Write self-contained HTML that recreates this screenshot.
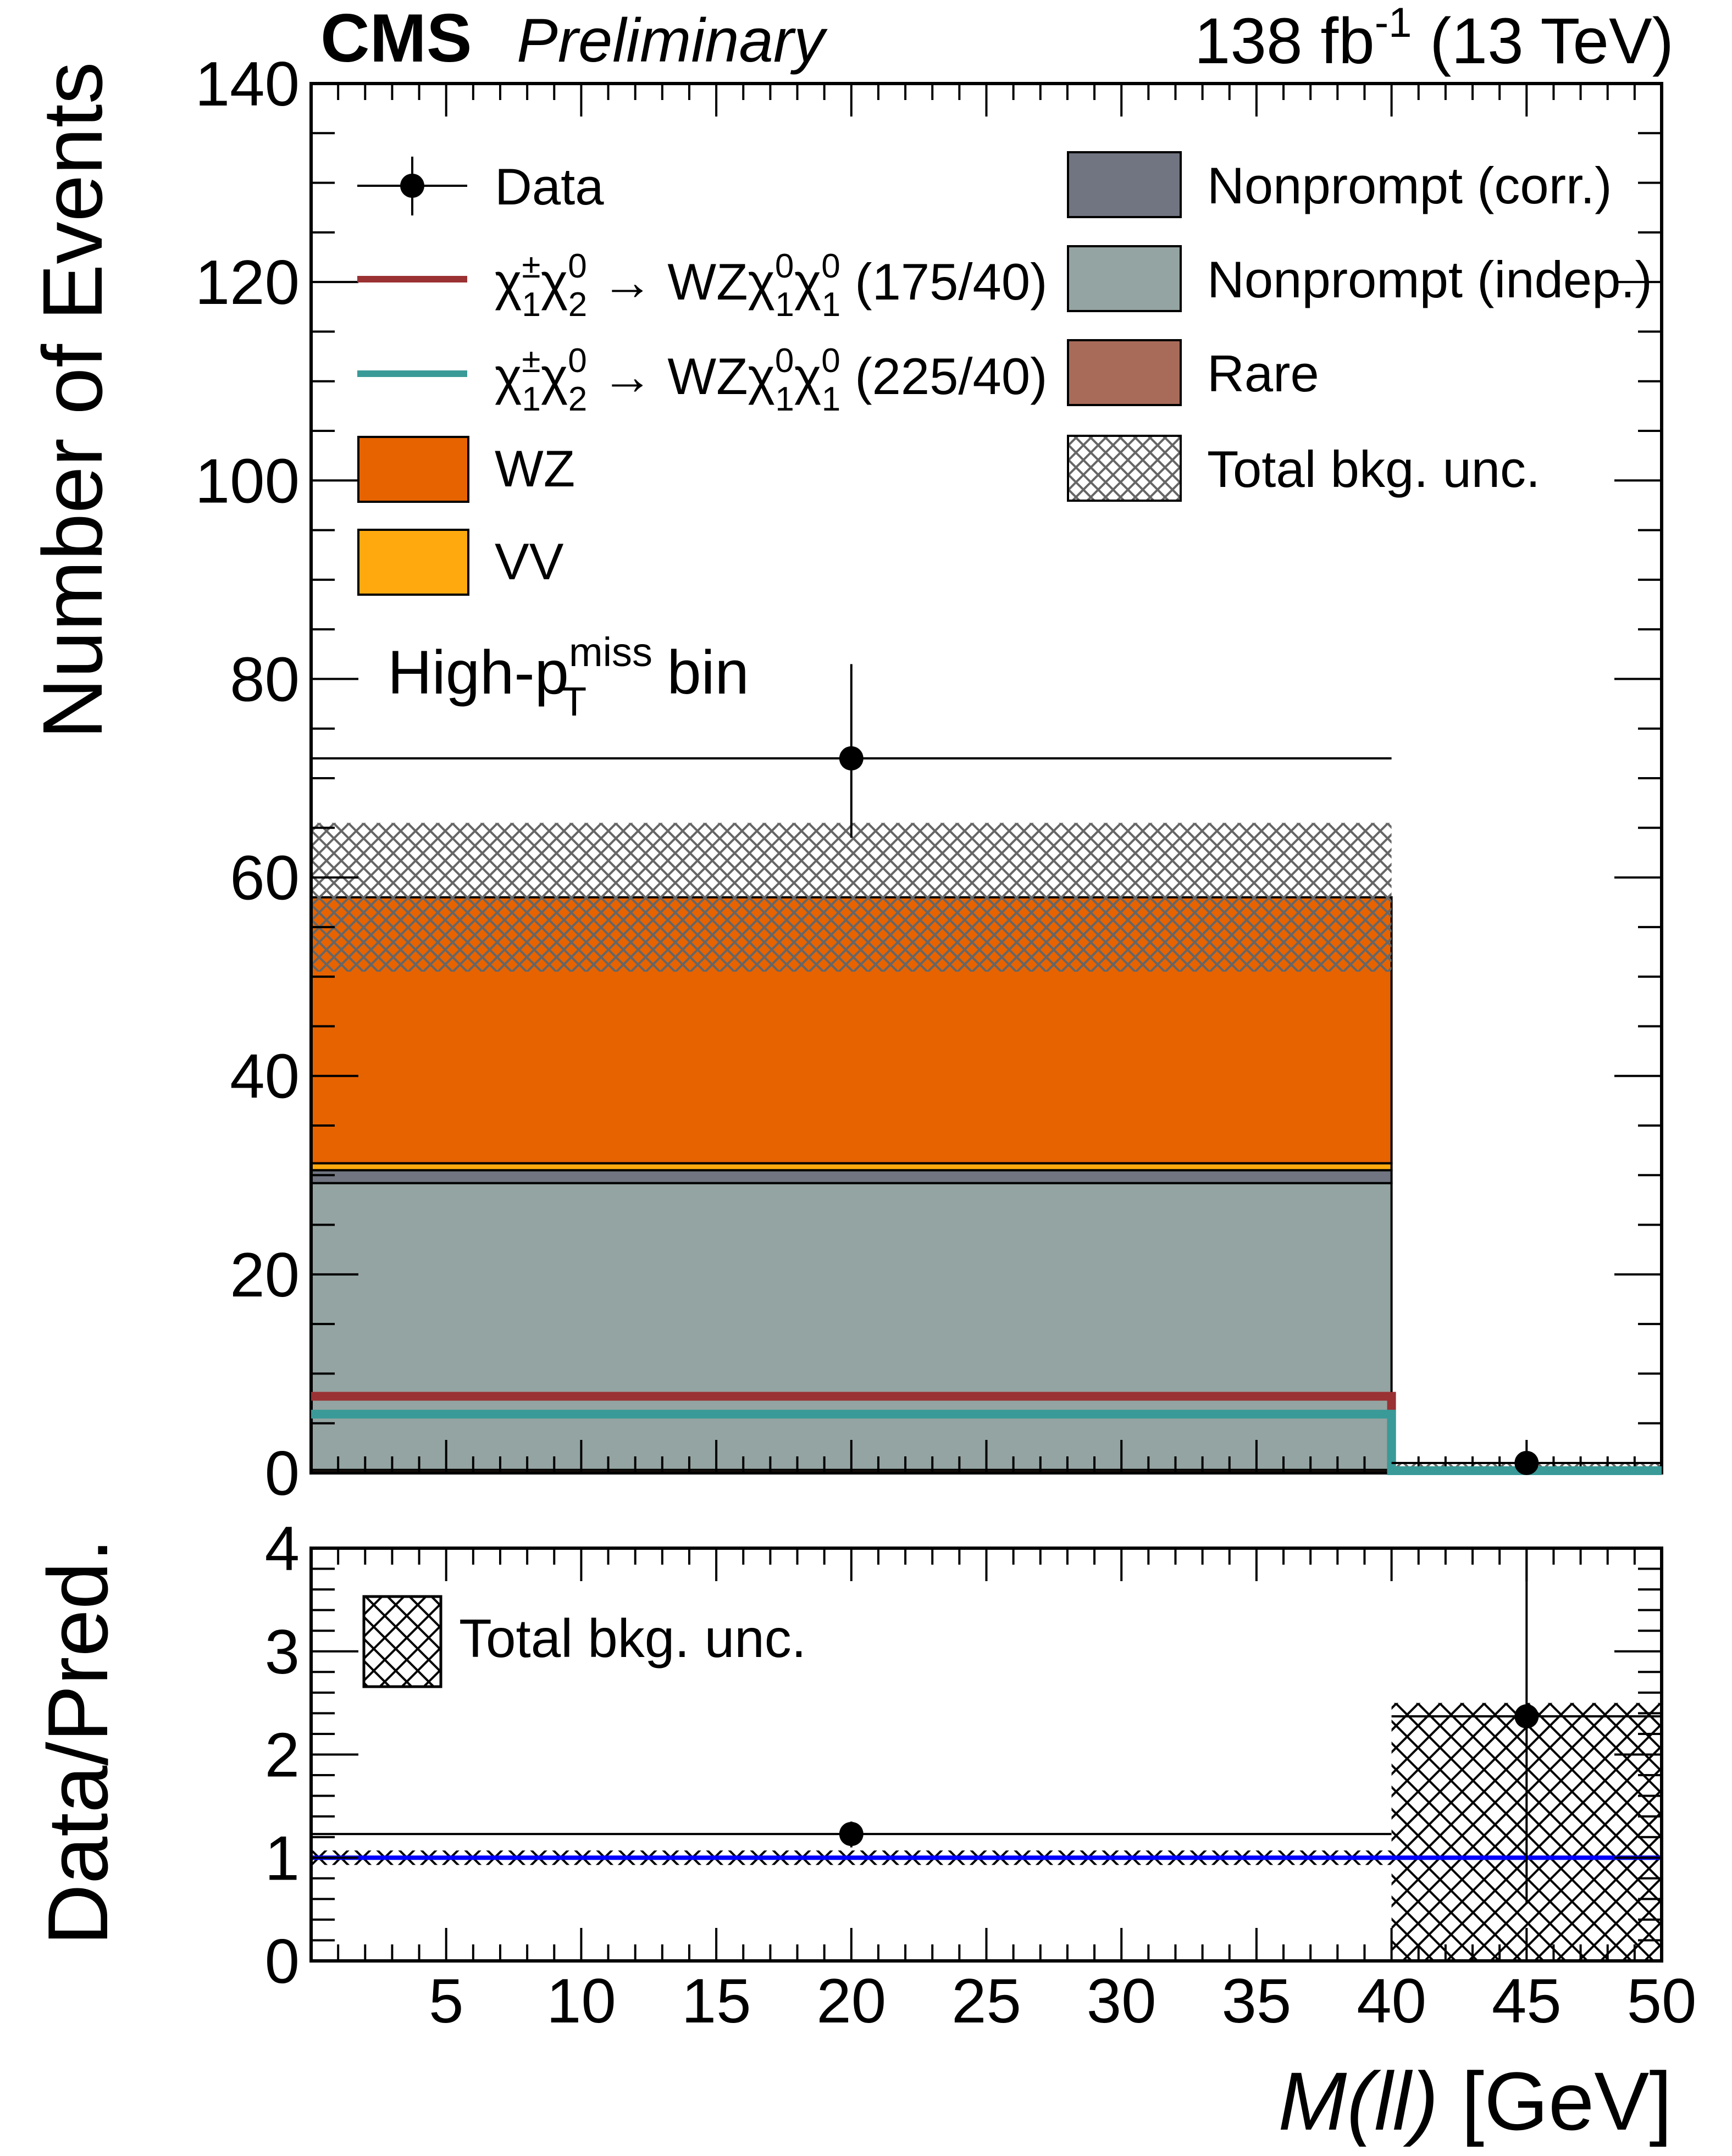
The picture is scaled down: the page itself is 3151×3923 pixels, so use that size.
<!DOCTYPE html>
<html><head><meta charset="utf-8"><style>
html,body{margin:0;padding:0;background:#fff;}
svg{display:block;}
text{font-family:"Liberation Sans",sans-serif;fill:#000;}
</style></head><body>
<svg id="chart" xmlns="http://www.w3.org/2000/svg" width="3151" height="3923" viewBox="0 0 3151 3923">
<defs>
<pattern id="hatchGray" patternUnits="userSpaceOnUse" width="27" height="27">
<path d="M0,0 L27,27 M27,0 L0,27 M-3,24 L3,30 M24,-3 L30,3 M-3,3 L3,-3 M24,30 L30,24" stroke="#666" stroke-width="4"/>
</pattern>
<pattern id="hatchBlack" patternUnits="userSpaceOnUse" width="40" height="40">
<path d="M0,0 L40,40 M40,0 L0,40" stroke="#000" stroke-width="4"/>
</pattern>
<clipPath id="mainClip"><rect x="566" y="152" width="2457" height="2528"/></clipPath>
<clipPath id="ratioClip"><rect x="566" y="2817" width="2457" height="751"/></clipPath>
</defs>
<g id="main-marks" clip-path="url(#mainClip)"></g>
<g id="ratio-marks" clip-path="url(#ratioClip)"></g>
<g id="axes"></g>
<g id="signal-marks"></g>

<text x="583" y="112" font-size="124" font-weight="bold">CMS</text>
<text x="940" y="112" font-size="112" font-style="italic">Preliminary</text>
<text x="3045" y="115" font-size="118" text-anchor="end">138 fb<tspan dy="-48" font-size="76">-1</tspan><tspan dy="48"> (13 TeV)</tspan></text>

<text transform="translate(185,1345) rotate(-90)" font-size="154">Number of Events</text>
<text transform="translate(195,3540) rotate(-90)" font-size="155">Data/Pred.</text>
<text x="3042" y="3875" font-size="150" text-anchor="end"><tspan font-style="italic">M(ll)</tspan> [GeV]</text>

<g font-size="94">
 <g>
  <line x1="650" y1="338" x2="850" y2="338" stroke="#000" stroke-width="4"/>
  <line x1="750" y1="285" x2="750" y2="392" stroke="#000" stroke-width="4"/>
  <circle cx="750" cy="338" r="22" fill="#000"/>
  <text x="900" y="372">Data</text>
 </g>
 <g>
  <line x1="650" y1="508" x2="850" y2="508" stroke="#9a3133" stroke-width="12"/>
  <text x="900" y="545">χ<tspan font-size="62" dy="-40">±</tspan><tspan font-size="62" dx="-34" dy="70">1</tspan><tspan dy="-30">χ</tspan><tspan font-size="62" dy="-40">0</tspan><tspan font-size="62" dx="-34" dy="70">2</tspan><tspan dy="-30"> → WZχ</tspan><tspan font-size="62" dy="-40">0</tspan><tspan font-size="62" dx="-34" dy="70">1</tspan><tspan dy="-30">χ</tspan><tspan font-size="62" dy="-40">0</tspan><tspan font-size="62" dx="-34" dy="70">1</tspan><tspan dy="-30"> (175/40)</tspan></text>
 </g>
 <g>
  <line x1="650" y1="680" x2="850" y2="680" stroke="#3a9a98" stroke-width="12"/>
  <text x="900" y="717">χ<tspan font-size="62" dy="-40">±</tspan><tspan font-size="62" dx="-34" dy="70">1</tspan><tspan dy="-30">χ</tspan><tspan font-size="62" dy="-40">0</tspan><tspan font-size="62" dx="-34" dy="70">2</tspan><tspan dy="-30"> → WZχ</tspan><tspan font-size="62" dy="-40">0</tspan><tspan font-size="62" dx="-34" dy="70">1</tspan><tspan dy="-30">χ</tspan><tspan font-size="62" dy="-40">0</tspan><tspan font-size="62" dx="-34" dy="70">1</tspan><tspan dy="-30"> (225/40)</tspan></text>
 </g>
 <g>
  <rect x="652" y="795" width="200" height="118" fill="#e76300" stroke="#000" stroke-width="4"/>
  <text x="900" y="885">WZ</text>
 </g>
 <g>
  <rect x="652" y="964" width="200" height="118" fill="#ffa90e" stroke="#000" stroke-width="4"/>
  <text x="900" y="1054">VV</text>
 </g>
 <g>
  <rect x="1943" y="277" width="205" height="118" fill="#717581" stroke="#000" stroke-width="4"/>
  <text x="2196" y="370">Nonprompt (corr.)</text>
 </g>
 <g>
  <rect x="1943" y="448" width="205" height="118" fill="#94a4a2" stroke="#000" stroke-width="4"/>
  <text x="2196" y="541">Nonprompt (indep.)</text>
 </g>
 <g>
  <rect x="1943" y="619" width="205" height="118" fill="#a96b59" stroke="#000" stroke-width="4"/>
  <text x="2196" y="712">Rare</text>
 </g>
 <g>
  <rect x="1943" y="793" width="205" height="118" fill="url(#hatchGray)" stroke="#000" stroke-width="4"/>
  <text x="2196" y="886">Total bkg. unc.</text>
 </g>
</g>
<text x="705" y="1262" font-size="112">High-p<tspan font-size="74" dy="-50">miss</tspan><tspan font-size="74" dx="-165" dy="90">T</tspan><tspan dx="115" dy="-40"> bin</tspan></text>

<g>
 <rect x="662" y="2905" width="140" height="164" fill="url(#hatchBlack)" stroke="#000" stroke-width="5"/>
 <text x="835" y="3015" font-size="98">Total bkg. unc.</text>
</g>

<script>
const binEdges = [0, 40, 50];
const rare = [0.3, 0.0];
const nonpromptIndep = [28.9, 0.0];
const nonpromptCorr = [1.3, 0.0];
const vv = [0.7, 0.0];
const wz = [26.8, 0.4];
const totalUncLow = [50.5, 0.0];
const totalUncHigh = [65.5, 0.9];
const dataX = [20, 45];
const dataY = [72, 1];
const dataErrLow = [64, 0.2];
const dataErrHigh = [81.5, 1.6];
const signal175 = [7.5, 0.0];
const signal225 = [5.7, 0.0];
const ratioY = [1.23, 2.37];
const ratioErrLow = [1.1, 0.55];
const ratioErrHigh = [1.35, 4.2];
const ratioUncLow = [0.93, 0.0];
const ratioUncHigh = [1.07, 2.5];
const yTicksMain = [0, 20, 40, 60, 80, 100, 120, 140];
const yTicksRatio = [0, 1, 2, 3, 4];
const xTickLabels = [5, 10, 15, 20, 25, 30, 35, 40, 45, 50];

const NS = "http://www.w3.org/2000/svg";
const X0 = 566, X1 = 3023;
const MY0 = 2680, MY1 = 152, RY0 = 3568, RY1 = 2817;
const xs = v => X0 + (v - 0) / 50 * (X1 - X0);
const ym = v => MY0 - v / 140 * (MY0 - MY1);
const yr = v => RY0 - v / 4 * (RY0 - RY1);
function mk(tag, attrs, parent) {
  const el = document.createElementNS(NS, tag);
  for (const k in attrs) el.setAttribute(k, attrs[k]);
  parent.appendChild(el);
  return el;
}
const gm = document.getElementById('main-marks');
const gs = document.getElementById('signal-marks');
const gr = document.getElementById('ratio-marks');
const ga = document.getElementById('axes');

const stacks = [
  {arr: rare, color: '#a96b59', name: 'rare'},
  {arr: nonpromptIndep, color: '#94a4a2', name: 'nonprompt-indep'},
  {arr: nonpromptCorr, color: '#717581', name: 'nonprompt-corr'},
  {arr: vv, color: '#ffa90e', name: 'vv'},
  {arr: wz, color: '#e76300', name: 'wz'}
];
for (let b = 0; b < binEdges.length - 1; b++) {
  let cum = 0;
  for (const s of stacks) {
    const lo = cum, hi = cum + s.arr[b];
    cum = hi;
    if (s.arr[b] <= 0) continue;
    const r = mk('rect', {x: xs(binEdges[b]), y: ym(hi), width: xs(binEdges[b+1]) - xs(binEdges[b]), height: ym(lo) - ym(hi), fill: s.color, stroke: '#000', 'stroke-width': 4}, gm);
    
    
  }
  const u = mk('rect', {x: xs(binEdges[b]), y: ym(totalUncHigh[b]), width: xs(binEdges[b+1]) - xs(binEdges[b]), height: ym(totalUncLow[b]) - ym(totalUncHigh[b]), fill: 'url(#hatchGray)'}, gm);
  
  
}
function stepPath(arr) {
  let d = '';
  for (let b = 0; b < arr.length; b++) {
    d += (b === 0 ? 'M' : 'L') + xs(binEdges[b]) + ',' + (ym(arr[b]) - 4) + ' L' + xs(binEdges[b+1]) + ',' + (ym(arr[b]) - 4) + ' ';
  }
  return d;
}
const s1 = mk('path', {d: stepPath(signal175), fill: 'none', stroke: '#9a3133', 'stroke-width': 16}, gs);


const s2 = mk('path', {d: stepPath(signal225), fill: 'none', stroke: '#3a9a98', 'stroke-width': 16}, gs);


for (let i = 0; i < dataX.length; i++) {
  const g = mk('g', {}, gs);
  
  
  mk('line', {x1: xs(binEdges[i]), x2: xs(binEdges[i+1]), y1: ym(dataY[i]), y2: ym(dataY[i]), stroke: '#000', 'stroke-width': 4}, g);
  mk('line', {x1: xs(dataX[i]), x2: xs(dataX[i]), y1: ym(dataErrLow[i]), y2: ym(dataErrHigh[i]), stroke: '#000', 'stroke-width': 4}, g);
  mk('circle', {cx: xs(dataX[i]), cy: ym(dataY[i]), r: 22, fill: '#000'}, g);
}
for (let b = 0; b < binEdges.length - 1; b++) {
  const u = mk('rect', {x: xs(binEdges[b]), y: yr(ratioUncHigh[b]), width: xs(binEdges[b+1]) - xs(binEdges[b]), height: yr(ratioUncLow[b]) - yr(ratioUncHigh[b]), fill: 'url(#hatchBlack)'}, gr);
  
  
}
const ref = mk('line', {x1: X0, x2: X1, y1: yr(1), y2: yr(1), stroke: '#0000ff', 'stroke-width': 8}, gr);


for (let i = 0; i < dataX.length; i++) {
  const g = mk('g', {}, gr);
  
  
  mk('line', {x1: xs(binEdges[i]), x2: xs(binEdges[i+1]), y1: yr(ratioY[i]), y2: yr(ratioY[i]), stroke: '#000', 'stroke-width': 4}, g);
  mk('line', {x1: xs(dataX[i]), x2: xs(dataX[i]), y1: yr(ratioErrLow[i]), y2: yr(ratioErrHigh[i]), stroke: '#000', 'stroke-width': 4}, g);
  mk('circle', {cx: xs(dataX[i]), cy: yr(ratioY[i]), r: 22, fill: '#000'}, g);
}
function frame(yTop, yBot, name) {
  const r = mk('rect', {x: X0, y: yTop, width: X1 - X0, height: yBot - yTop, fill: 'none', stroke: '#000', 'stroke-width': 6}, ga);
  
  
}
frame(MY1, MY0, 'main-plot-frame');
frame(RY1, RY0, 'ratio-plot-frame');
function tick(x1, y1, x2, y2) { mk('line', {x1, y1, x2, y2, stroke: '#000', 'stroke-width': 4}, ga); }
for (let v = 1; v < 50; v++) {
  const major = v % 5 === 0;
  const x = xs(v);
  const Lm = major ? 60 : 30;
  tick(x, MY0, x, MY0 - Lm); tick(x, MY1, x, MY1 + Lm);
  tick(x, RY0, x, RY0 - Lm); tick(x, RY1, x, RY1 + Lm);
}
for (let v = 0; v <= 140; v += 5) {
  const major = v % 20 === 0;
  const L = major ? 86 : 43;
  tick(X0, ym(v), X0 + L, ym(v)); tick(X1, ym(v), X1 - L, ym(v));
}
for (let v = 0; v <= 4.001; v += 0.2) {
  const major = Math.abs(v - Math.round(v)) < 0.01;
  const L = major ? 86 : 43;
  tick(X0, yr(v), X0 + L, yr(v)); tick(X1, yr(v), X1 - L, yr(v));
}
yTicksMain.forEach(v => {
  const t = mk('text', {x: 545, y: ym(v) + 40, 'font-size': 114, 'text-anchor': 'end'}, ga);
  t.textContent = v;
  
  
});
yTicksRatio.forEach(v => {
  const t = mk('text', {x: 545, y: yr(v) + 40, 'font-size': 114, 'text-anchor': 'end'}, ga);
  t.textContent = v;
  
  
});
xTickLabels.forEach(v => {
  const t = mk('text', {x: xs(v), y: 3680, 'font-size': 114, 'text-anchor': 'middle'}, ga);
  t.textContent = v;
  
  
});
</script>
</svg>
</body></html>
